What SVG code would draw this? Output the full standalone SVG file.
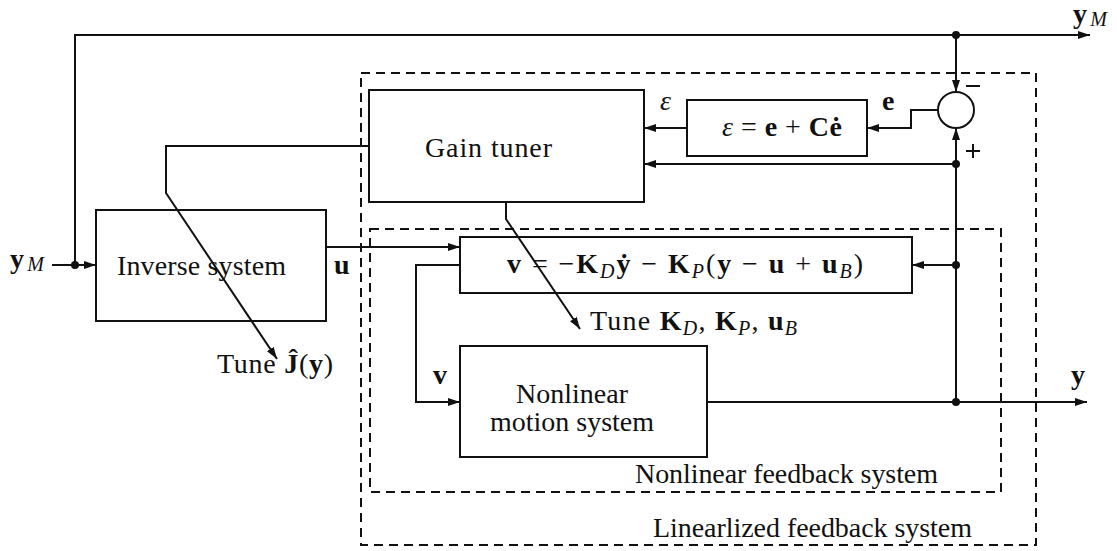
<svg xmlns="http://www.w3.org/2000/svg" width="1117" height="551" viewBox="0 0 1117 551">
<style>
text{font-family:"Liberation Serif","Times New Roman",serif;font-size:28px;fill:#111}
.b{font-weight:bold}
.i{font-style:italic}
.sub{font-size:20px;font-style:italic}
.box{fill:none;stroke:#111;stroke-width:2}
.dash{fill:none;stroke:#111;stroke-width:2;stroke-dasharray:9 6}
.w{fill:none;stroke:#111;stroke-width:2}
.arr{fill:none;stroke:#111;stroke-width:2;marker-end:url(#ah)}
.dot{fill:#111}
</style>
<defs>
<marker id="ah" viewBox="0 0 12 8" refX="12" refY="4" markerWidth="12" markerHeight="8" markerUnits="userSpaceOnUse" orient="auto">
<path d="M0,0 L12,4 L0,8 Z" fill="#111"/>
</marker>
</defs>
<rect width="1117" height="551" fill="#fff"/>

<g id="linearized-frame">
<rect class="dash" x="361" y="73" width="675" height="472"/>
<text x="653" y="537" textLength="319" lengthAdjust="spacing">Linearlized feedback system</text>
</g>
<g id="nonlinear-frame">
<rect class="dash" x="370" y="229" width="631" height="263"/>
<text x="635" y="483" textLength="303" lengthAdjust="spacing">Nonlinear feedback system</text>
</g>

<g id="gain-tuner">
<rect class="box" x="369" y="90" width="275" height="112"/>
<text x="425" y="157" textLength="127" lengthAdjust="spacing">Gain tuner</text>
</g>
<g id="inverse-system">
<rect class="box" x="96" y="210" width="230" height="111"/>
<text x="117" y="275" textLength="169" lengthAdjust="spacing">Inverse system</text>
</g>
<g id="error-filter">
<rect class="box" x="687" y="100" width="180" height="56"/>
<text x="722" y="136" textLength="120" lengthAdjust="spacing"><tspan class="i">ε</tspan> = <tspan class="b">e</tspan> + <tspan class="b">Cė</tspan></text>
</g>
<g id="summing-junction">
<circle class="box" cx="956" cy="110" r="18"/>
<line class="w" x1="966" y1="86" x2="980" y2="86"/>
<line class="w" x1="966" y1="151" x2="980" y2="151"/>
<line class="w" x1="973" y1="144" x2="973" y2="158"/>
</g>
<g id="control-law">
<rect class="box" x="460" y="237" width="452" height="56"/>
<text x="507" y="273" textLength="356" lengthAdjust="spacing"><tspan class="b">v</tspan> = −<tspan class="b">K</tspan><tspan class="sub" dy="5">D</tspan><tspan class="b" dy="-5">ẏ</tspan> − <tspan class="b">K</tspan><tspan class="sub" dy="5">P</tspan><tspan dy="-5">(</tspan><tspan class="b">y</tspan> − <tspan class="b">u</tspan> + <tspan class="b">u</tspan><tspan class="sub" dy="5">B</tspan><tspan dy="-5">)</tspan></text>
</g>
<g id="nonlinear-motion-system">
<rect class="box" x="460" y="346" width="247" height="111"/>
<text x="572" y="403" text-anchor="middle">Nonlinear</text>
<text x="572" y="431" text-anchor="middle">motion system</text>
</g>

<g id="connectors">
<line class="arr" x1="52" y1="265" x2="96" y2="265"/>
<polyline class="w" points="75,265 75,35 956,35"/>
<line class="arr" x1="956" y1="35" x2="1090" y2="35"/>
<line class="arr" x1="956" y1="35" x2="956" y2="92"/>
<polyline class="arr" points="938,110 911,110 911,128 867,128"/>
<line class="arr" x1="687" y1="128" x2="644" y2="128"/>
<line class="arr" x1="956" y1="402" x2="956" y2="128"/>
<line class="arr" x1="956" y1="164" x2="644" y2="164"/>
<line class="arr" x1="956" y1="265" x2="912" y2="265"/>
<line class="arr" x1="326" y1="247" x2="460" y2="247"/>
<polyline class="arr" points="460,265 416,265 416,402 460,402"/>
<line class="arr" x1="707" y1="402" x2="1087" y2="402"/>
<polyline class="arr" points="369,146 166,146 166,193 277,359"/>
<polyline class="arr" points="506,202 506,219 580,329"/>
<circle class="dot" cx="75" cy="265" r="4"/>
<circle class="dot" cx="956" cy="35" r="4"/>
<circle class="dot" cx="956" cy="164" r="4"/>
<circle class="dot" cx="956" cy="265" r="4"/>
<circle class="dot" cx="956" cy="402" r="4"/>
</g>

<g id="labels">
<text x="10" y="268" textLength="34" lengthAdjust="spacing"><tspan class="b">y</tspan><tspan class="sub" dy="3">M</tspan></text>
<text x="1073" y="23" textLength="34" lengthAdjust="spacing"><tspan class="b">y</tspan><tspan class="sub" dy="3">M</tspan></text>
<text x="660" y="110" class="i">ε</text>
<text x="882" y="110" class="b">e</text>
<text x="334" y="274" class="b">u</text>
<text x="433" y="384" class="b">v</text>
<text x="1071" y="384" class="b">y</text>
<text x="217" y="373" textLength="116" lengthAdjust="spacing">Tune <tspan class="b">Ĵ</tspan>(<tspan class="b">y</tspan>)</text>
<text x="590" y="330" textLength="207" lengthAdjust="spacing">Tune <tspan class="b">K</tspan><tspan class="sub" dy="5">D</tspan><tspan dy="-5">, </tspan><tspan class="b">K</tspan><tspan class="sub" dy="5">P</tspan><tspan dy="-5">, </tspan><tspan class="b">u</tspan><tspan class="sub" dy="5">B</tspan></text>
</g>
</svg>
